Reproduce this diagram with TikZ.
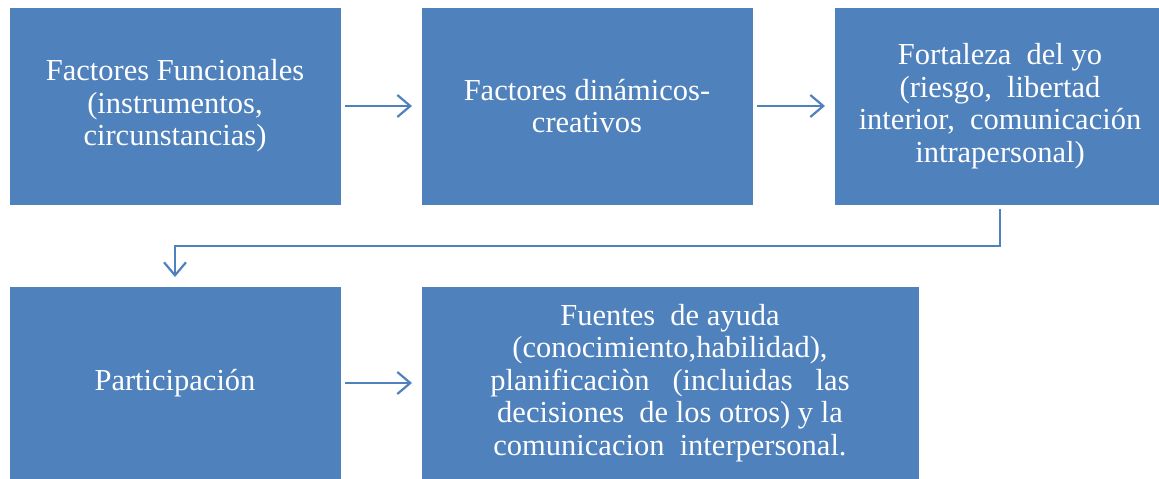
\documentclass[tikz,border=0pt]{standalone}
\usepackage{fontspec}
\setmainfont{Liberation Serif}
\usetikzlibrary{arrows.meta}
\definecolor{boxblue}{HTML}{4F81BD}
\tikzset{
  box/.style={fill=boxblue, draw=boxblue, text=white, inner sep=0pt, outer sep=0pt,
    align=center, font=\fontsize{30.5}{32.5}\selectfont},
  arr/.style={draw=boxblue, line width=2.2pt, -{Straight Barb[length=13pt,width=22pt,line width=2.2pt]}}
}
\begin{document}
\begin{tikzpicture}[x=1pt,y=-1pt]
\useasboundingbox (0,0) rectangle (1159,479);
\node[box, minimum width=330pt, minimum height=196pt] (b1) at (175,106)
  {Factores Funcionales\\(instrumentos,\\circunstancias)};
\node[box, minimum width=330pt, minimum height=196pt] (b2) at (587,106)
  {Factores dinámicos-\\creativos};
\node[box, minimum width=330pt, minimum height=196pt] (b3) at (1000,106)
  {Fortaleza \ del yo\\(riesgo, \ libertad\\interior, \ comunicación\\intrapersonal)};
\node[box, minimum width=330pt, minimum height=192pt] (b4) at (175,383)
  {Participación};
\node[box, minimum width=496pt, minimum height=192pt] (b5) at (670,383)
  {Fuentes \ de ayuda\\(conocimiento,habilidad),\\planificaciòn \ \ (incluidas \ \ las\\decisiones \ de los otros) y la\\comunicacion \ interpersonal.};
\draw[arr, shorten <=5pt, shorten >=10pt] (b1) -- (b2);
\draw[arr, shorten <=5pt, shorten >=10pt] (b2) -- (b3);
\draw[arr, shorten <=5pt, shorten >=10pt] (b4) -- (b5);
\draw[arr, shorten <=5pt, shorten >=10pt] (b3.south) -- ++(0,42) -| (b4.north);
\end{tikzpicture}
\end{document}
